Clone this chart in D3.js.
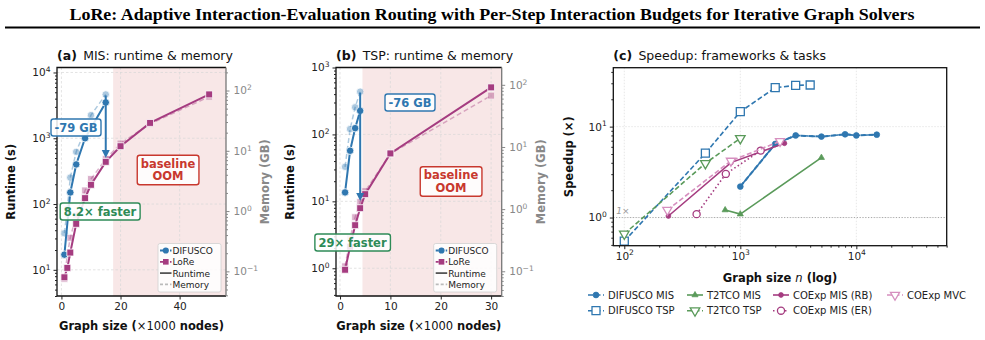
<!DOCTYPE html>
<html>
<head>
<meta charset="utf-8">
<script src="https://cdn.jsdelivr.net/npm/d3@7"></script>
<style>
body { margin: 0; background: #fff; }
svg { display: block; }
text { font-family: "DejaVu Sans", sans-serif; }
</style>
</head>
<body>
<svg width="985" height="340"></svg>
<script>
// ---- data: (a) MIS runtime (s) & memory (GB) vs graph size (x1000 nodes)
const misDifSizes = [1, 3, 5, 8, 15];
const misDifRuntime = [17, 150, 400, 1000, 3500];
const misDifMemSizes = [1, 2, 3, 5, 10, 15];
const misDifMemory = [0.43, 1.1, 3.6, 9.6, 39, 86];
const misLoreSizes = [1, 2, 3, 5, 8, 10, 15, 20, 30, 50];
const misLoreRuntime = [7.7, 10.7, 18.3, 50, 123, 196, 438, 757, 1710, 4640];
const misLoreMemory = [0.075, 0.19, 0.36, 0.85, 2.2, 3.4, 7.3, 13.2, 28, 79];

// ---- data: (b) TSP
const tspDifSizes = [1, 2, 3, 4];
const tspDifRuntime = [13.6, 57, 124, 225];
const tspDifMemory = [4.8, 19.4, 43.5, 77.5];
const tspLoreSizes = [1, 2, 3, 4, 5, 10, 30];
const tspLoreRuntime = [0.95, 2.1, 4.4, 7.9, 12.8, 52, 505];
const tspLoreMemory = [0.12, 0.34, 0.74, 1.3, 1.95, 7.8, 67];

// ---- data: (c) speedup vs graph size n
const difMisN = [1000, 2000, 3000, 5000, 8000, 10000, 15000];
const difMisSpeedup = [2.19, 6.45, 8.0, 7.77, 8.24, 8.0, 8.16];
const difTspN = [100, 500, 1000, 2000, 3000, 4000];
const difTspSpeedup = [0.55, 5.1, 14.6, 26.8, 28.5, 28.7];
const t2tMisN = [740, 1000, 5000];
const t2tMisSpeedup = [1.21, 1.09, 4.56];
const t2tTspN = [100, 500, 1000];
const t2tTspSpeedup = [0.66, 3.95, 7.44];
const coRbN = [240, 830, 2400];
const coRbSpeedup = [1.04, 4.02, 6.56];
const coErN = [420, 750, 1500];
const coErSpeedup = [1.09, 3.02, 5.45];
const coMvcN = [235, 830, 2200];
const coMvcSpeedup = [1.21, 4.2, 6.9];

const blue = "#2f77b0", pink = "#a53c80", green = "#2e8b57", red = "#c8382e";
const cGreen = "#5a9a5a", cPink = "#d68fbf";

const svg = d3.select("svg");

// title
svg.append("text")
    .attr("x", 492).attr("y", 20)
    .attr("text-anchor", "middle")
    .attr("textLength", 845).attr("lengthAdjust", "spacingAndGlyphs")
    .style("font-family", "'Liberation Serif', serif")
    .style("font-weight", "bold").style("font-size", "17px")
    .text("LoRe: Adaptive Interaction-Evaluation Routing with Per-Step Interaction Budgets for Iterative Graph Solvers");
svg.append("line")
    .attr("x1", 5).attr("x2", 980).attr("y1", 27.5).attr("y2", 27.5)
    .attr("stroke", "#000").attr("stroke-width", 1.8);

const logLabel = (sel) => sel.selectAll(".tick text").each(function(d) {
    const e = Math.round(Math.log10(d));
    const t = d3.select(this).text(null);
    t.append("tspan").text("10");
    t.append("tspan").attr("dy", "-0.55em").style("font-size", "0.72em")
        .text(e < 0 ? "\u2212" + (-e) : e);
});

const logMinors = ([a, b]) => {
    const out = [];
    for (let k = Math.floor(Math.log10(a)); k <= Math.ceil(Math.log10(b)); k++)
        for (let m = 2; m < 10; m++) {
            const v = m * Math.pow(10, k);
            if (v >= a && v <= b) out.push(v);
        }
    return out;
};
const logMajors = ([a, b]) => d3.range(Math.ceil(Math.log10(a)), Math.floor(Math.log10(b)) + 1).map(k => Math.pow(10, k));

const styleAxis = (g, color) => {
    g.select(".domain").remove();
    g.selectAll("line").attr("stroke", color);
    g.selectAll("text").attr("fill", color).style("font-size", "10.5px").style("font-family", "'DejaVu Sans', sans-serif");
};

const drawSeries = (g, pts, o) => {
    if (pts.length > 1) {
        g.append("path")
            .attr("d", d3.line()(pts))
            .attr("fill", "none")
            .attr("stroke", o.color)
            .attr("stroke-width", o.width || 2)
            .attr("stroke-dasharray", o.dash || null)
            .attr("opacity", o.alpha || 1);
    }
    if (!o.marker) return;
    g.selectAll(null).data(pts).join("path")
        .attr("d", d3.symbol(o.marker, o.size)())
        .attr("transform", d => `translate(${d[0]},${d[1]})${o.down ? " rotate(180)" : ""}`)
        .attr("fill", o.hollow ? "#fff" : o.color)
        .attr("stroke", o.hollow ? o.color : (o.edge || "#fff"))
        .attr("stroke-width", o.hollow ? 1.3 : 0.8)
        .attr("opacity", o.alpha || 1);
};

const annoBox = (g, cx, cy, lines, color) => {
    const t = g.append("text")
        .attr("text-anchor", "middle")
        .attr("fill", color)
        .style("font-weight", "bold").style("font-size", "11.5px");
    lines.forEach((s, i) => {
        t.append("tspan").attr("x", cx)
            .attr("y", cy + (i - (lines.length - 1) / 2) * 12.5 + 4)
            .text(s);
    });
    const bb = t.node().getBBox();
    g.insert("rect", () => t.node())
        .attr("x", bb.x - 3.5).attr("y", bb.y - 1.5)
        .attr("width", bb.width + 7).attr("height", bb.height + 3)
        .attr("rx", 2.5)
        .attr("fill", "#fff").attr("fill-opacity", 0.85)
        .attr("stroke", color).attr("stroke-width", 1.4);
};

const panelTitle = (x, y, tag, rest) => {
    const t = svg.append("text").attr("x", x).attr("y", y).style("font-size", "12.5px").attr("fill", "#111");
    t.append("tspan").style("font-weight", "bold").text(tag);
    t.append("tspan").text("\u2002" + rest);
};

const yLabel = (x, y, txt, color) => svg.append("text")
    .attr("transform", `translate(${x},${y}) rotate(-90)`)
    .attr("text-anchor", "middle")
    .attr("fill", color)
    .style("font-size", "11.5px").style("font-weight", "bold")
    .text(txt);

// ---- panels (a) and (b)
const dualPanels = [
    {tag: "(a)", title: "MIS: runtime & memory", left: 57, right: 226, top: 67.5, bottom: 296,
     xDomain: [-1.5, 55.7], xTicks: [0, 20, 40], rtDomain: [4, 11900], memDomain: [0.039, 241], oomFrom: 17.5,
     dif: [misDifSizes, misDifRuntime, misDifMemSizes, misDifMemory],
     lore: [misLoreSizes, misLoreRuntime, misLoreSizes, misLoreMemory],
     gb: ["-79 GB", 76, 127.5], fast: ["8.2\u00d7 faster", 100, 211.5], oom: [168, 170]},
    {tag: "(b)", title: "TSP: runtime & memory", left: 336, right: 501.7, top: 67.5, bottom: 296,
     xDomain: [-0.8, 32.1], xTicks: [0, 10, 20, 30], rtDomain: [0.385, 1000], memDomain: [0.04, 190], oomFrom: 4.45,
     dif: [tspDifSizes, tspDifRuntime, tspDifSizes, tspDifMemory],
     lore: [tspLoreSizes, tspLoreRuntime, tspLoreSizes, tspLoreMemory],
     gb: ["-76 GB", 410, 102.5], fast: ["29\u00d7 faster", 352.5, 242.5], oom: [451, 181.5]}
];

dualPanels.forEach(p => {
    const g = svg.append("g");
    const x = d3.scaleLinear().domain(p.xDomain).range([p.left, p.right]);
    const yR = d3.scaleLog().domain(p.rtDomain).range([p.bottom, p.top]);
    const yM = d3.scaleLog().domain(p.memDomain).range([p.bottom, p.top]);

    g.append("rect")
        .attr("x", x(p.oomFrom)).attr("y", p.top)
        .attr("width", p.right - x(p.oomFrom)).attr("height", p.bottom - p.top)
        .attr("fill", "#f2d4d4").attr("fill-opacity", 0.55);

    // grid
    const grid = g.append("g").attr("stroke", "#d8d8d8").attr("stroke-width", 0.7).attr("stroke-dasharray", "2.5,2");
    p.xTicks.forEach(v => grid.append("line").attr("x1", x(v)).attr("x2", x(v)).attr("y1", p.top).attr("y2", p.bottom));
    logMajors(p.rtDomain).forEach(v => grid.append("line").attr("x1", p.left).attr("x2", p.right).attr("y1", yR(v)).attr("y2", yR(v)));

    // memory (light, dashed), then runtime
    const [dx, drt, dmx, dmem] = p.dif;
    const [lx, lrt, lmx, lmem] = p.lore;
    drawSeries(g, dmx.map((v, i) => [x(v), yM(dmem[i])]), {color: blue, dash: "5,3", width: 1.5, alpha: 0.4, marker: d3.symbolCircle, size: 44});
    drawSeries(g, lmx.map((v, i) => [x(v), yM(lmem[i])]), {color: pink, dash: "5,3", width: 1.5, alpha: 0.4, marker: d3.symbolSquare, size: 48});
    drawSeries(g, dx.map((v, i) => [x(v), yR(drt[i])]), {color: blue, width: 2, marker: d3.symbolCircle, size: 44});
    drawSeries(g, lx.map((v, i) => [x(v), yR(lrt[i])]), {color: pink, width: 2, marker: d3.symbolSquare, size: 48});

    // memory drop arrow at the largest baseline size
    const ax = x(dmx[dmx.length - 1]);
    const y0 = yM(dmem[dmem.length - 1]) + 1;
    const y1 = yM(lmem[lmx.indexOf(dmx[dmx.length - 1])]) - 1;
    g.append("line").attr("x1", ax).attr("x2", ax).attr("y1", y0).attr("y2", y1 - 7)
        .attr("stroke", blue).attr("stroke-width", 2);
    g.append("path").attr("d", `M${ax - 4},${y1 - 8} L${ax + 4},${y1 - 8} L${ax},${y1} Z`).attr("fill", blue);

    // frame
    g.append("path").attr("d", `M${p.right},${p.top} H${p.left} V${p.bottom} H${p.right}`)
        .attr("fill", "none").attr("stroke", "#111").attr("stroke-width", 1.3);
    g.append("line").attr("x1", p.right).attr("x2", p.right).attr("y1", p.top).attr("y2", p.bottom)
        .attr("stroke", "#777").attr("stroke-width", 1.3);

    // axes
    g.append("g").attr("transform", `translate(0,${p.bottom})`)
        .call(d3.axisBottom(x).tickValues(p.xTicks).tickSize(3.5).tickPadding(3))
        .call(s => styleAxis(s, "#222"));
    g.append("g").attr("transform", `translate(${p.left},0)`)
        .call(d3.axisLeft(yR).tickValues(logMajors(p.rtDomain)).tickSize(3.5).tickPadding(3))
        .call(logLabel).call(s => styleAxis(s, "#222"));
    g.append("g").attr("transform", `translate(${p.left},0)`)
        .call(d3.axisLeft(yR).tickValues(logMinors(p.rtDomain)).tickSize(2).tickFormat(""))
        .call(s => styleAxis(s, "#222"));
    g.append("g").attr("transform", `translate(${p.right},0)`)
        .call(d3.axisRight(yM).tickValues(logMajors(p.memDomain)).tickSize(3.5).tickPadding(4))
        .call(logLabel).call(s => styleAxis(s, "#888"));
    g.append("g").attr("transform", `translate(${p.right},0)`)
        .call(d3.axisRight(yM).tickValues(logMinors(p.memDomain)).tickSize(2).tickFormat(""))
        .call(s => styleAxis(s, "#888"));

    // labels
    panelTitle(p.left, 60, p.tag, p.title);
    yLabel(p.left - 42, (p.top + p.bottom) / 2, "Runtime (s)", "#111");
    yLabel(p.right + 43, (p.top + p.bottom) / 2, "Memory (GB)", "#888");
    const xl = svg.append("text").attr("x", (p.left + p.right) / 2).attr("y", 330)
        .attr("text-anchor", "middle").attr("fill", "#111").style("font-size", "11.5px").style("font-weight", "bold");
    xl.append("tspan").text("Graph size (");
    xl.append("tspan").style("font-weight", "normal").text("\u00d71000");
    xl.append("tspan").text(" nodes)");

    // annotations
    annoBox(g, p.gb[1], p.gb[2], [p.gb[0]], blue);
    annoBox(g, p.fast[1], p.fast[2], [p.fast[0]], green);
    annoBox(g, p.oom[0], p.oom[1], ["baseline", "OOM"], red);

    // legend
    const lg = g.append("g").attr("transform", `translate(${p.right - 68},${p.bottom - 52.5})`);
    lg.append("rect").attr("width", 63).attr("height", 48.5).attr("rx", 2)
        .attr("fill", "#fff").attr("fill-opacity", 0.85).attr("stroke", "#d0d0d0").attr("stroke-width", 0.8);
    const items = [
        {label: "DIFUSCO", color: blue, dash: "3,2", marker: d3.symbolCircle, size: 30},
        {label: "LoRe", color: pink, dash: "3,2", marker: d3.symbolSquare, size: 32},
        {label: "Runtime", color: "#555", dash: null},
        {label: "Memory", color: "#bbb", dash: "3,2"}
    ];
    items.forEach((it, i) => {
        const yy = 7 + i * 11.3;
        const row = lg.append("g");
        row.append("line").attr("x1", 2).attr("x2", 13.5).attr("y1", yy).attr("y2", yy)
            .attr("stroke", it.color).attr("stroke-width", 1.8).attr("stroke-dasharray", it.dash);
        if (it.marker) row.append("path").attr("d", d3.symbol(it.marker, it.size)())
            .attr("transform", `translate(7.8,${yy})`).attr("fill", it.color);
        row.append("text").attr("x", 14.5).attr("y", yy + 3.4).style("font-size", "9px").attr("fill", "#222").text(it.label);
    });
});

// ---- panel (c)
const pc = {left: 613.3, right: 946.7, top: 67.7, bottom: 245.7};
const xc = d3.scaleLog().domain([80.4, 60100]).range([pc.left, pc.right]);
const yc = d3.scaleLog().domain([0.49, 44.5]).range([pc.bottom, pc.top]);
const gc = svg.append("g");

const gridC = gc.append("g").attr("stroke", "#dcdcdc").attr("stroke-width", 0.7).attr("stroke-dasharray", "1.5,1.5");
logMajors(xc.domain()).forEach(v => gridC.append("line").attr("x1", xc(v)).attr("x2", xc(v)).attr("y1", pc.top).attr("y2", pc.bottom));
logMajors(yc.domain()).forEach(v => gridC.append("line").attr("x1", pc.left).attr("x2", pc.right).attr("y1", yc(v)).attr("y2", yc(v)));

gc.append("line").attr("x1", pc.left).attr("x2", pc.right).attr("y1", yc(1)).attr("y2", yc(1))
    .attr("stroke", "#999").attr("stroke-width", 0.9).attr("stroke-dasharray", "1,1.8");
gc.append("text").attr("x", pc.left + 3).attr("y", yc(1) - 4).attr("fill", "#999")
    .style("font-size", "9px").style("font-style", "italic").text("1\u00d7");

const cSeries = [
    {label: "DIFUSCO MIS", n: difMisN, s: difMisSpeedup, color: blue, dash: "5,2.5", marker: d3.symbolCircle, size: 26, solidTo: 3},
    {label: "DIFUSCO TSP", n: difTspN, s: difTspSpeedup, color: blue, dash: "5,2.5", marker: d3.symbolSquare, size: 64, hollow: true},
    {label: "T2TCO MIS", n: t2tMisN, s: t2tMisSpeedup, color: cGreen, dash: null, marker: d3.symbolTriangle, size: 16},
    {label: "T2TCO TSP", n: t2tTspN, s: t2tTspSpeedup, color: cGreen, dash: "5,2.5", marker: d3.symbolTriangle, size: 40, hollow: true, down: true},
    {label: "COExp MIS (RB)", n: coRbN, s: coRbSpeedup, color: pink, dash: null, marker: d3.symbolCircle, size: 18},
    {label: "COExp MIS (ER)", n: coErN, s: coErSpeedup, color: pink, dash: "1.5,2.5", marker: d3.symbolCircle, size: 40, hollow: true},
    {label: "COExp MVC", n: coMvcN, s: coMvcSpeedup, color: cPink, dash: "5,2.5", marker: d3.symbolTriangle, size: 36, hollow: true, down: true}
];

cSeries.forEach(c => {
    const pts = c.n.map((v, i) => [xc(v), yc(c.s[i])]);
    const o = {color: c.color, dash: c.dash, width: 1.6, marker: c.marker, size: c.size, hollow: c.hollow, down: c.down, edge: c.color};
    if (c.solidTo) {
        drawSeries(gc, pts.slice(0, c.solidTo), Object.assign({}, o, {dash: null, marker: null}));
        drawSeries(gc, pts.slice(c.solidTo - 1), Object.assign({}, o, {marker: null}));
        drawSeries(gc, pts, Object.assign({}, o, {width: 0}));
    } else {
        drawSeries(gc, pts, o);
    }
});

gc.append("rect").attr("x", pc.left).attr("y", pc.top).attr("width", pc.right - pc.left).attr("height", pc.bottom - pc.top)
    .attr("fill", "none").attr("stroke", "#111").attr("stroke-width", 1.3);

gc.append("g").attr("transform", `translate(0,${pc.bottom})`)
    .call(d3.axisBottom(xc).tickValues(logMajors(xc.domain())).tickSize(3.5).tickPadding(3))
    .call(logLabel).call(s => styleAxis(s, "#222"));
gc.append("g").attr("transform", `translate(0,${pc.bottom})`)
    .call(d3.axisBottom(xc).tickValues(logMinors(xc.domain())).tickSize(2).tickFormat(""))
    .call(s => styleAxis(s, "#222"));
gc.append("g").attr("transform", `translate(${pc.left},0)`)
    .call(d3.axisLeft(yc).tickValues(logMajors(yc.domain())).tickSize(3.5).tickPadding(3))
    .call(logLabel).call(s => styleAxis(s, "#222"));
gc.append("g").attr("transform", `translate(${pc.left},0)`)
    .call(d3.axisLeft(yc).tickValues(logMinors(yc.domain())).tickSize(2).tickFormat(""))
    .call(s => styleAxis(s, "#222"));

panelTitle(pc.left, 60, "(c)", "Speedup: frameworks & tasks");
yLabel(573, (pc.top + pc.bottom) / 2, "Speedup (\u00d7)", "#111");
const xlc = svg.append("text").attr("x", (pc.left + pc.right) / 2).attr("y", 282)
    .attr("text-anchor", "middle").attr("fill", "#111").style("font-size", "11.5px").style("font-weight", "bold");
xlc.append("tspan").text("Graph size ");
xlc.append("tspan").style("font-style", "italic").style("font-weight", "normal").text("n");
xlc.append("tspan").text(" (log)");

// legend below panel (c)
const colX = [588, 687, 773, 887];
cSeries.forEach((c, i) => {
    const col = i < 4 ? Math.floor(i / 2) : (i === 6 ? 3 : 2);
    const row = (i === 6) ? 0 : i % 2;
    const lx = colX[col], ly = 295 + row * 15.7;
    const lg = svg.append("g");
    lg.append("line").attr("x1", lx).attr("x2", lx + 16).attr("y1", ly).attr("y2", ly)
        .attr("stroke", c.color).attr("stroke-width", 1.6).attr("stroke-dasharray", c.dash);
    lg.append("path").attr("d", d3.symbol(c.marker, c.size)())
        .attr("transform", `translate(${lx + 8},${ly})${c.down ? " rotate(180)" : ""}`)
        .attr("fill", c.hollow ? "#fff" : c.color).attr("stroke", c.color).attr("stroke-width", c.hollow ? 1.3 : 0.8);
    lg.append("text").attr("x", lx + 20).attr("y", ly + 3.6).style("font-size", "10px").attr("fill", "#222").text(c.label);
});
</script>
</body>
</html>
